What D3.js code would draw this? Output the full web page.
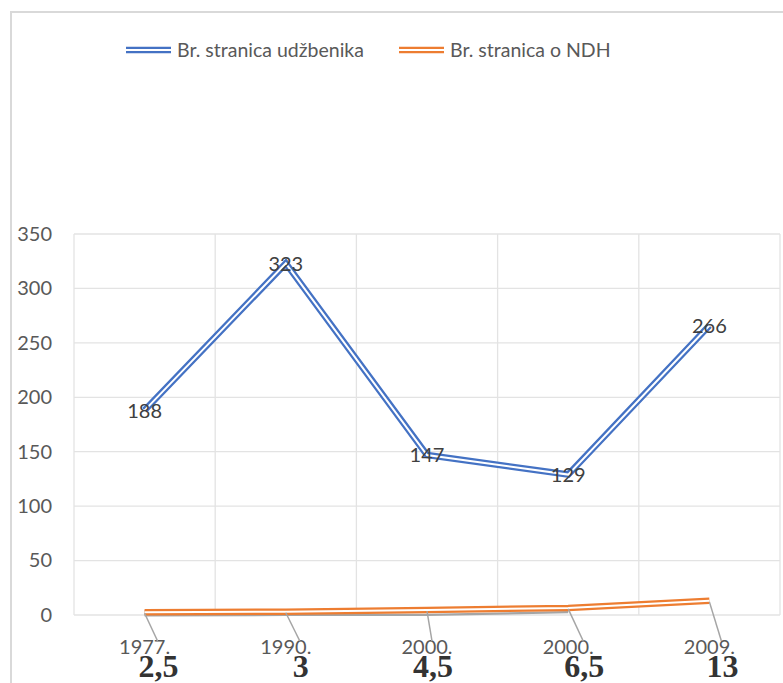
<!DOCTYPE html>
<html>
<head>
<meta charset="utf-8">
<script src="https://cdn.jsdelivr.net/npm/d3@7"></script>
<style>
  body { margin: 0; background: #fff; }
  svg { display: block; }
  text { font-family: Lato, "Open Sans", sans-serif; }
</style>
</head>
<body>
<svg id="chart" width="783" height="683"></svg>
<script>
'use strict';

// chart values
const years = ['1977.', '1990.', '2000.', '2000.', '2009.'];
const pagesTotal = [188, 323, 147, 129, 266];
const pagesNdh = [2.5, 3, 4.5, 6.5, 13];
const pagesNdhLabels = ['2,5', '3', '4,5', '6,5', '13'];
const greySeries = [1.5, 2, 2, 4.5];
const yTicks = [0, 50, 100, 150, 200, 250, 300, 350];
const seriesNames = ['Br. stranica udžbenika', 'Br. stranica o NDH'];

// layout
const plot = { left: 74, right: 780, top: 234, bottom: 615 };
const labelNudge = [14, 15, 6, 16, 13];
const colors = { blue: '#4472c4', orange: '#ed7d31', grey: '#a5a5a5', grid: '#e3e3e3', text: '#595959', label: '#404040' };

const svg = d3.select('#chart');

// chart border (left and top edges only visible)
svg.append('path')
  .attr('d', 'M11,683V12H783')
  .attr('fill', 'none')
  .attr('stroke', '#d9d9d9')
  .attr('stroke-width', 2);

const idx = d3.range(years.length);
const x = d3.scaleBand().domain(idx).range([plot.left, plot.right]);
const cx = i => x(i) + x.bandwidth() / 2;
const y = d3.scaleLinear().domain([0, 350]).range([plot.bottom, plot.top]);

// gridlines
svg.append('g')
  .selectAll('line.h')
  .data(yTicks)
  .join('line')
  .attr('x1', plot.left)
  .attr('x2', plot.right)
  .attr('y1', d => y(d))
  .attr('y2', d => y(d))
  .attr('stroke', colors.grid)
  .attr('stroke-width', 1.3);

svg.append('g')
  .selectAll('line.v')
  .data(d3.range(years.length + 1))
  .join('line')
  .attr('x1', i => (i < years.length ? x(i) : plot.right))
  .attr('x2', i => (i < years.length ? x(i) : plot.right))
  .attr('y1', plot.top)
  .attr('y2', plot.bottom)
  .attr('stroke', colors.grid)
  .attr('stroke-width', 1.3);

// y axis labels
const yAxis = svg.append('g')
  .attr('transform', `translate(${plot.left - 22},0)`)
  .call(d3.axisLeft(y).tickValues(yTicks).tickSize(0).tickPadding(0));
yAxis.select('.domain').remove();
yAxis.selectAll('text')
  .attr('fill', colors.text)
  .style('font-size', '20px');

// year labels
svg.append('g')
  .selectAll('text')
  .data(idx)
  .join('text')
  .attr('x', i => cx(i))
  .attr('y', 654)
  .attr('text-anchor', 'middle')
  .attr('fill', colors.text)
  .style('font-size', '20px')
  .text(i => years[i]);

// double line helper
function doubleLine(values, color) {
  const line = d3.line()
    .x((d, i) => cx(i))
    .y(d => y(d));
  const g = svg.append('g').attr('fill', 'none').attr('stroke-linejoin', 'miter');
  g.append('path').attr('d', line(values)).attr('stroke', color).attr('stroke-width', 6.5);
  g.append('path').attr('d', line(values)).attr('stroke', '#fff').attr('stroke-width', 2);
}

doubleLine(greySeries, colors.grey);
doubleLine(pagesNdh, colors.orange);
doubleLine(pagesTotal, colors.blue);

// leader lines for NDH labels
svg.append('g')
  .selectAll('line')
  .data(idx)
  .join('line')
  .attr('x1', i => cx(i))
  .attr('y1', i => y(pagesNdh[i]) + 1)
  .attr('x2', i => cx(i) + labelNudge[i] - 1)
  .attr('y2', 641)
  .attr('stroke', colors.grey)
  .attr('stroke-width', 1.5);

// bold NDH labels
svg.append('g')
  .selectAll('text')
  .data(idx)
  .join('text')
  .attr('x', i => cx(i) + labelNudge[i])
  .attr('y', 677)
  .attr('text-anchor', 'middle')
  .attr('fill', '#333')
  .style('font-family', '"Liberation Serif", "Times New Roman", serif')
  .style('font-weight', 'bold')
  .style('font-size', '32px')
  .text(i => pagesNdhLabels[i]);

// blue data labels
svg.append('g')
  .selectAll('text')
  .data(idx)
  .join('text')
  .attr('x', i => cx(i))
  .attr('y', i => y(pagesTotal[i]))
  .attr('dy', '0.36em')
  .attr('text-anchor', 'middle')
  .attr('fill', colors.label)
  .style('font-size', '20px')
  .text(i => pagesTotal[i]);

// legend
const legend = [
  { name: seriesNames[0], color: colors.blue, x: 126 },
  { name: seriesNames[1], color: colors.orange, x: 399 }
];
const lg = svg.append('g').selectAll('g').data(legend).join('g')
  .attr('transform', d => `translate(${d.x},50)`);
lg.append('line').attr('x1', 0).attr('x2', 45).attr('stroke', d => d.color).attr('stroke-width', 6.5);
lg.append('line').attr('x1', 0).attr('x2', 45).attr('stroke', '#fff').attr('stroke-width', 2);
lg.append('text')
  .attr('x', 51)
  .attr('dy', '0.36em')
  .attr('fill', colors.text)
  .style('font-size', '19.5px')
  .text(d => d.name);
</script>
</body>
</html>
